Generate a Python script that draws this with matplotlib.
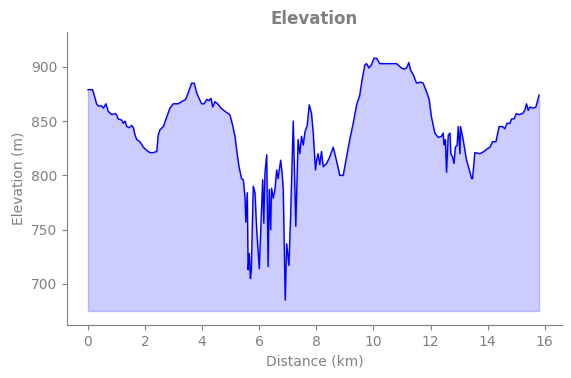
import matplotlib
matplotlib.use("Agg")
import matplotlib.pyplot as plt

distance_km = [
    0.00, 0.16, 0.25, 0.30, 0.36, 0.48, 0.54, 0.63, 0.71, 0.83, 0.95, 1.00, 1.06, 1.18,
    1.24, 1.30, 1.36, 1.45, 1.53, 1.59, 1.65, 1.71, 1.82, 1.94, 2.06, 2.17, 2.29, 2.41,
    2.46, 2.52, 2.64, 2.76, 2.87, 2.99, 3.16, 3.28, 3.42, 3.51, 3.63, 3.72, 3.81, 3.89,
    3.98, 4.07, 4.16, 4.24, 4.31, 4.37, 4.45, 4.54, 4.66, 4.80, 4.97, 5.05, 5.15, 5.21,
    5.29, 5.38, 5.44, 5.50, 5.53, 5.58, 5.61, 5.65, 5.69, 5.72, 5.79, 5.85, 5.91, 6.00,
    6.12, 6.16, 6.20, 6.26, 6.31, 6.35, 6.40, 6.43, 6.49, 6.55, 6.61, 6.66, 6.75, 6.80,
    6.84, 6.87, 6.91, 6.96, 7.04, 7.10, 7.19, 7.28, 7.36, 7.42, 7.48, 7.54, 7.60, 7.68,
    7.75, 7.83, 7.89, 7.97, 8.01, 8.06, 8.12, 8.18, 8.24, 8.36, 8.47, 8.59, 8.71, 8.82,
    8.94, 9.06, 9.17, 9.29, 9.41, 9.52, 9.60, 9.70, 9.76, 9.84, 9.93, 10.02, 10.11, 10.22,
    10.34, 10.51, 10.81, 10.98, 11.06, 11.16, 11.24, 11.30, 11.39, 11.51, 11.65, 11.74,
    11.86, 11.95, 12.03, 12.15, 12.27, 12.38, 12.44, 12.47, 12.52, 12.56, 12.62, 12.68,
    12.71, 12.77, 12.82, 12.87, 12.93, 12.97, 13.03, 13.05, 13.14, 13.26, 13.44, 13.47,
    13.55, 13.73, 13.87, 13.96, 14.08, 14.17, 14.29, 14.40, 14.52, 14.60, 14.68, 14.78,
    14.84, 14.92, 15.01, 15.10, 15.22, 15.30, 15.36, 15.42, 15.48, 15.59, 15.69, 15.77,
    15.80,
]

elevation_m = [
    879, 879, 871, 866, 864, 864, 862, 866, 859, 856, 857, 856, 852, 851,
    848, 850, 845, 844, 846, 844, 837, 833, 831, 826, 823, 821, 821, 822,
    837, 842, 845, 854, 862, 866, 866, 868, 870, 876, 885, 885, 876, 871,
    866, 866, 870, 869, 871, 863, 868, 866, 862, 859, 856, 848, 836, 823,
    808, 797, 796, 780, 757, 784, 713, 728, 705, 712, 790, 784, 750, 714,
    796, 756, 802, 819, 716, 787, 750, 788, 779, 787, 805, 797, 814, 802,
    787, 741, 685, 737, 717, 764, 850, 753, 833, 820, 836, 828, 840, 846,
    865, 857, 839, 805, 814, 820, 810, 822, 808, 811, 817, 826, 813, 800,
    800, 817, 833, 848, 865, 874, 888, 902, 903, 899, 902, 908, 908, 903,
    903, 903, 903, 899, 898, 899, 904, 897, 893, 885, 886, 885,
    877, 870, 854, 839, 835, 836, 839, 828, 833, 803, 837, 839,
    820, 817, 811, 826, 828, 845, 820, 845, 833, 814, 797, 797,
    821, 820, 822, 824, 826, 831, 831, 845, 845, 843, 848, 848,
    852, 852, 857, 856, 857, 860, 866, 860, 863, 862, 863, 871,
    874,
]

title_text = "Elevation"
x_label = "Distance (km)"
y_label = "Elevation (m)"

grey = "#808080"

fig = plt.figure(figsize=(5.71, 3.78), dpi=100)
ax = fig.add_axes([0.117, 0.140, 0.867, 0.775])

base = min(elevation_m) - 10
ax.fill_between(distance_km, elevation_m, base, color="blue", alpha=0.2)
ax.plot(distance_km, elevation_m, color="blue", linewidth=1)

ax.set_xlim(-0.74, 16.6)
ax.set_ylim(662, 932)
ax.set_xticks([0, 2, 4, 6, 8, 10, 12, 14, 16])
ax.set_yticks([700, 750, 800, 850, 900])

ax.set_title(title_text, color=grey, fontweight="bold", fontsize=12)
ax.set_xlabel(x_label, color=grey, fontsize=10)
ax.set_ylabel(y_label, color=grey, fontsize=10)

for side in ["top", "right"]:
    ax.spines[side].set_visible(False)
for side in ["left", "bottom"]:
    ax.spines[side].set_color(grey)
ax.tick_params(colors=grey, labelcolor=grey, labelsize=10)

fig.savefig("out.png", dpi=100)
